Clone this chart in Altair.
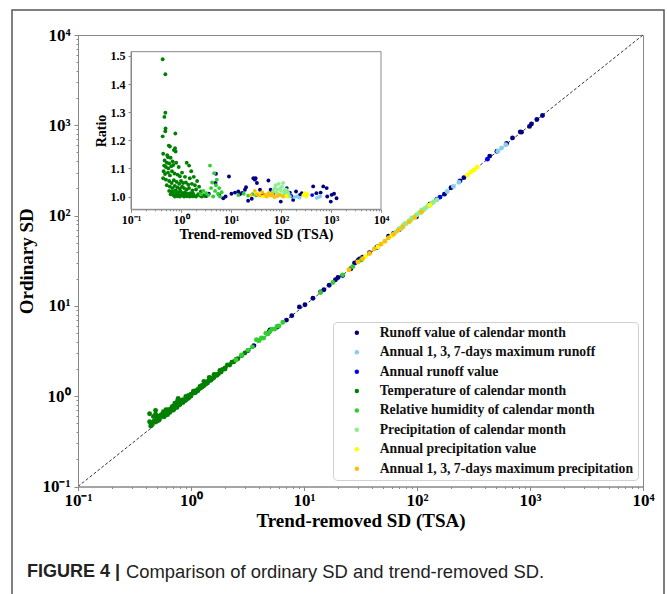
import altair as alt
import pandas as pd

SERIES = [
    "Runoff value of calendar month",
    "Annual 1, 3, 7-days maximum runoff",
    "Annual runoff value",
    "Temperature of calendar month",
    "Relative humidity of calendar month",
    "Precipitation of calendar month",
    "Annual precipitation value",
    "Annual 1, 3, 7-days maximum precipitation",
]
COLORS = ["#000080", "#87CEEB", "#0000FF", "#008000", "#32CD32", "#90EE90", "#FFFF00", "#FFC000"]

# (trend-removed SD, ordinary SD / trend-removed SD)
RUNOFF_MONTH = [
    (3.2, 1.002), (3.6, 1.010), (4.9, 1.048), (5.0, 1.081), (5.8, 1.006), (7.0, 0.994),
    (7.8, 1.000), (9.1, 1.071), (10.2, 1.010), (12, 1.014), (14, 1.018), (15, 1.008),
    (16.7, 1.013), (19, 1.024), (20, 1.033), (22, 0.985), (26, 0.992), (28, 1.065),
    (30, 1.060), (31, 1.065), (33, 1.048), (38, 1.024), (44, 1.006), (56, 1.057),
    (62, 1.024), (70, 1.006), (99, 0.982), (130, 1.030), (150, 1.014), (175, 0.988),
    (200, 1.018), (240, 1.006), (260, 1.012), (440, 1.036), (510, 1.012), (620, 1.014),
    (700, 1.036), (820, 1.030), (840, 1.000), (990, 0.982), (1030, 1.006), (1150, 1.010),
    (1290, 0.994),
]
MAX_RUNOFF = [
    (130, 1.002), (185, 0.998), (210, 1.000), (235, 0.996), (520, 0.995), (560, 0.998), (610, 1.000),
]
ANNUAL_RUNOFF = [(45, 1.004), (70, 1.010), (160, 1.002), (420, 1.005)]
TEMPERATURE = [
    (0.43, 1.488), (0.486, 1.435), (0.486, 1.298), (0.465, 1.283), (0.49, 1.242), (0.485, 1.232),
    (0.43, 1.214), (0.77, 1.224), (0.57, 1.181), (0.60, 1.178), (0.76, 1.172), (0.72, 1.165),
    (0.78, 1.160), (0.44, 1.152), (0.53, 1.147), (0.55, 1.140), (0.62, 1.138), (0.47, 1.128),
    (0.52, 1.120), (0.58, 1.118), (0.68, 1.125), (0.46, 1.110), (0.50, 1.105), (0.56, 1.100),
    (0.64, 1.108), (0.70, 1.112), (0.80, 1.120), (0.90, 1.105), (1.30, 1.120), (1.45, 1.110),
    (1.60, 1.090), (0.45, 1.090), (0.48, 1.080), (0.55, 1.085), (0.60, 1.075), (0.66, 1.090),
    (0.74, 1.082), (0.85, 1.078), (0.95, 1.072), (1.05, 1.085), (1.20, 1.070), (1.50, 1.065),
    (1.80, 1.070), (2.10, 1.055), (0.44, 1.065), (0.50, 1.060), (0.58, 1.055), (0.65, 1.048),
    (0.72, 1.058), (0.82, 1.052), (0.92, 1.045), (1.00, 1.055), (1.10, 1.048), (1.25, 1.050),
    (1.40, 1.042), (1.65, 1.045), (1.90, 1.040), (2.30, 1.035), (0.52, 1.040), (0.60, 1.035),
    (0.68, 1.030), (0.75, 1.038), (0.85, 1.032), (0.95, 1.028), (1.05, 1.035), (1.15, 1.030),
    (1.30, 1.025), (1.45, 1.030), (1.70, 1.022), (2.00, 1.025), (2.50, 1.018), (0.58, 1.020),
    (0.65, 1.018), (0.70, 1.015), (0.78, 1.022), (0.88, 1.015), (0.98, 1.018), (1.08, 1.012),
    (1.20, 1.015), (1.35, 1.010), (1.55, 1.012), (1.75, 1.010), (2.20, 1.008), (2.80, 1.005),
    (0.62, 1.008), (0.70, 1.005), (0.80, 1.010), (0.90, 1.004), (1.00, 1.006), (1.10, 1.003),
    (1.25, 1.005), (1.40, 1.002), (1.60, 1.004), (1.85, 1.002), (2.40, 1.003), (3.00, 1.002),
    (0.75, 1.000), (0.85, 1.001), (0.95, 1.000), (1.15, 1.000), (1.30, 1.001), (1.50, 1.000),
    (1.70, 1.001), (2.00, 1.000), (2.60, 1.000),
]
HUMIDITY = [
    (2.5, 1.008), (2.8, 1.020), (3.2, 1.012), (3.5, 1.005), (3.8, 1.110), (4.0, 1.030),
    (4.2, 1.050), (4.4, 1.000), (4.6, 1.083), (4.8, 1.020), (5.0, 1.040), (5.2, 1.060),
    (5.5, 1.010), (5.8, 1.030), (6.0, 1.000), (6.5, 1.015), (14, 1.005), (18, 1.010),
    (22, 1.003), (27, 1.008), (32, 1.004),
]
PRECIP_MONTH = [
    (60, 1.005), (65, 1.010), (70, 1.020), (72, 1.000), (75, 1.030), (78, 1.040), (80, 1.015),
    (85, 1.025), (88, 1.008), (90, 1.045), (95, 1.005), (98, 1.030), (100, 1.020), (105, 1.035),
    (108, 1.002), (110, 1.048), (115, 1.010), (118, 1.022), (120, 1.015), (125, 1.025),
    (130, 1.005), (135, 1.018), (140, 1.012), (150, 1.000),
]
ANNUAL_PRECIP = [
    (35, 1.010), (45, 1.000), (60, 1.005), (130, 1.002), (280, 1.005), (300, 1.012), (320, 1.000), (340, 1.008),
]
MAX_PRECIP = [
    (25, 1.005), (30, 1.020), (33, 1.008), (38, 1.003), (42, 1.015), (48, 1.006), (52, 1.000),
    (56, 1.012), (62, 1.004), (68, 1.010), (75, 0.998), (85, 1.002), (95, 1.006), (110, 1.000),
]
ALL_SERIES = [RUNOFF_MONTH, MAX_RUNOFF, ANNUAL_RUNOFF, TEMPERATURE,
              HUMIDITY, PRECIP_MONTH, ANNUAL_PRECIP, MAX_PRECIP]

DECADES = [0.1, 1, 10, 100, 1000, 10000]
DECADE_LABELS = ["10\u207b\u00b9", "10\u2070", "10\u00b9", "10\u00b2", "10\u00b3", "10\u2074"]
RATIO_TICKS = [1.0, 1.1, 1.2, 1.3, 1.4, 1.5]
RATIO_DOMAIN = [0.9545, 1.515]
DIAGONAL = [0.1, 10000]

rows = []
for k, (name, pts) in enumerate(zip(SERIES, ALL_SERIES)):
    for tsa, ratio in pts:
        rows.append({"series": name, "tsa": tsa, "ratio": ratio, "k": k})
df = pd.DataFrame(rows)

# log-axis ticks: decades carry labels, the steps in between are minor ticks
log_ticks = []
for d in DECADES[:-1]:
    log_ticks += [d * m for m in range(1, 10)]
log_ticks.append(DECADES[-1])

label_expr = " : ".join(
    f"datum.value == {v} ? '{s}'" for v, s in zip(DECADES, DECADE_LABELS)
) + " : ''"
major_test = "indexof([" + ",".join(str(v) for v in DECADES) + "], datum.value) >= 0"

W, H = 565, 451.5


def log_axis(title, lsize, tsize, big, small, **kw):
    return alt.Axis(
        values=log_ticks, labelExpr=label_expr, title=title,
        labelFontSize=lsize, titleFontSize=tsize, labelOverlap=False,
        labelFlush=False, labelBound=False, zindex=2,
        tickSize={"condition": {"test": major_test, "value": big}, "value": small},
        **kw,
    )


main_x_axis = log_axis("Trend-removed SD (TSA)", 17, 19, 4, 2, labelPadding=2, titlePadding=3)
main_y_axis = log_axis("Ordinary SD", 17, 19, 4, 2, labelPadding=4, titlePadding=5)
main_scale = alt.Scale(type="log", domain=DECADES[::len(DECADES) - 1], nice=False)

color = alt.Color(
    "series:N",
    scale=alt.Scale(domain=SERIES, range=COLORS),
    legend=alt.Legend(
        title=None, orient="none", legendX=255, legendY=287,
        fillColor="white", strokeColor="#d0d0d0", cornerRadius=4, padding=4,
        symbolType="circle", symbolSize=20, symbolStrokeWidth=0,
        labelFont="Liberation Serif", labelFontWeight="bold", labelFontSize=13.7,
        labelColor="#111", rowPadding=4.4, labelOffset=16, symbolOffset=13, labelLimit=400,
    ),
)

diag = alt.Chart(pd.DataFrame({"v": DIAGONAL})).mark_line(
    color="#333", strokeDash=[3, 2], strokeWidth=1
).encode(
    x=alt.X("v:Q", scale=main_scale, axis=main_x_axis),
    y=alt.Y("v:Q", scale=main_scale, axis=main_y_axis),
)

main_pts = alt.Chart(df).transform_calculate(
    ordinary="datum.tsa * datum.ratio"
).mark_circle(size=24, opacity=1).encode(
    x=alt.X("tsa:Q", scale=main_scale, axis=main_x_axis),
    y=alt.Y("ordinary:Q", scale=main_scale, axis=main_y_axis),
    color=color,
    order=alt.Order("k:Q"),
)

# inset: ratio of ordinary to trend-removed SD
IN_LEFT, IN_RIGHT, IN_TOP, IN_BOTTOM = 53, 303, 16.7, 174.3
inset_x_scale = alt.Scale(type="log", domain=DECADES[::len(DECADES) - 1], nice=False,
                          range=[IN_LEFT, IN_RIGHT])
inset_y_scale = alt.Scale(domain=RATIO_DOMAIN, nice=False, zero=False,
                          range=[IN_BOTTOM, IN_TOP])
inset_x_axis = log_axis("Trend-removed SD (TSA)", 12, 14, 3, 1.5, orient="bottom",
                        offset=-(H - IN_BOTTOM), labelPadding=2, titlePadding=2)
inset_y_axis = alt.Axis(values=RATIO_TICKS, format=".1f", title="Ratio", orient="left",
                        offset=-IN_LEFT, labelFontSize=12, titleFontSize=14, tickSize=3,
                        labelPadding=3, titlePadding=2, labelOverlap=False, zindex=2)

frame_df = pd.DataFrame({"x0": [DIAGONAL[0]], "x1": [DIAGONAL[1]],
                         "y0": [RATIO_DOMAIN[0]], "y1": [RATIO_DOMAIN[1]]})
inset_frame = alt.Chart(frame_df).mark_rect(filled=False, stroke="#888", strokeWidth=1).encode(
    x=alt.X("x0:Q", scale=inset_x_scale, axis=inset_x_axis),
    x2="x1:Q",
    y=alt.Y("y0:Q", scale=inset_y_scale, axis=inset_y_axis),
    y2="y1:Q",
)
inset_pts = alt.Chart(df).mark_circle(size=15, opacity=1).encode(
    x=alt.X("tsa:Q", scale=inset_x_scale, axis=inset_x_axis),
    y=alt.Y("ratio:Q", scale=inset_y_scale, axis=inset_y_axis),
    color=color,
    order=alt.Order("k:Q"),
)

one = pd.DataFrame({"a": [0]})
outer = alt.Chart(one).mark_rect(filled=False, stroke="#555", strokeWidth=1.5).encode(
    x=alt.value(-66), x2=alt.value(586), y=alt.value(-25), y2=alt.value(580)
)
cap_bold = alt.Chart(one).mark_text(
    text="FIGURE 4 |", align="left", baseline="middle", font="Liberation Sans",
    fontSize=18, fontWeight="bold", color="#222"
).encode(x=alt.value(-51), y=alt.value(537))
cap_text = alt.Chart(one).mark_text(
    text="Comparison of ordinary SD and trend-removed SD.", align="left", baseline="middle",
    font="Liberation Sans", fontSize=18.4, color="#222"
).encode(x=alt.value(48), y=alt.value(537))

chart = alt.layer(
    alt.layer(outer, cap_bold, cap_text),
    alt.layer(diag, main_pts),
    alt.layer(inset_frame, inset_pts),
).resolve_scale(
    x="independent", y="independent"
).properties(
    width=W, height=H,
    autosize=alt.AutoSizeParams(type="none"),
    padding={"left": 78, "top": 35, "right": 24, "bottom": 107.5},
    background="white",
).configure_view(
    stroke="#888", strokeWidth=1
).configure_axis(
    labelFont="Liberation Serif", labelFontWeight="bold", labelColor="black",
    titleFont="Liberation Serif", titleFontWeight="bold", titleColor="black",
    domainColor="#888", tickColor="#888", grid=False,
)

chart.save("out.html", embed_options={"renderer": "svg", "actions": False})
